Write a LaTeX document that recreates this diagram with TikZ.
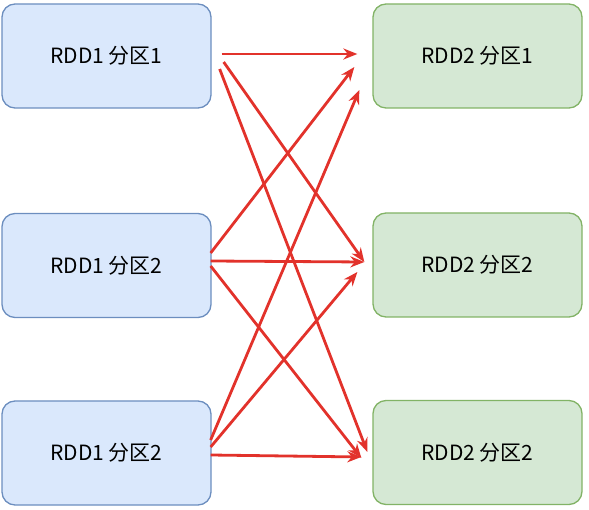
\documentclass[tikz,border=0pt]{standalone}
\usepackage{fontspec}
\newfontfamily\cjk{Noto Sans CJK SC}
\usetikzlibrary{arrows.meta,calc}
\definecolor{bluefill}{HTML}{DAE8FC}
\definecolor{blueline}{HTML}{6C8EBF}
\definecolor{greenfill}{HTML}{D5E8D4}
\definecolor{greenline}{HTML}{82B366}
\definecolor{arrowred}{HTML}{E2322B}
\begin{document}
\begin{tikzpicture}[x=1pt,y=-1pt]
\tikzstyle{every node}+=[inner sep=0pt,font=\cjk\fontsize{21}{24}\selectfont]
\tikzstyle{part}=[draw,rounded corners=13pt,line width=1.3pt,minimum width=209pt,minimum height=104pt]
\tikzstyle{src}=[part,fill=bluefill,draw=blueline]
\tikzstyle{dst}=[part,fill=greenfill,draw=greenline]
\tikzstyle{dep}=[draw=arrowred,line width=2.8pt,-{Stealth[length=14pt,width=11pt]}]
\useasboundingbox (0,0) rectangle (589,510);
\node [src] (l1) at (106.5,56) {RDD1 分区1};
\node [src] (l2) at (106.5,265.5) {RDD1 分区2};
\node [src] (l3) at (106.5,453) {RDD1 分区2};
\node [dst] (r1) at (477.5,56) {RDD2 分区1};
\node [dst] (r2) at (477.5,265) {RDD2 分区2};
\node [dst] (r3) at (477.5,452.5) {RDD2 分区2};
\draw [dep] ($(l1.east)+(10,-2)$) -- ($(r1.west)+(-15,-2)$);
\draw [dep] ($(l1.east)+(12,6)$) -- ($(r2.west)+(-8,-3)$);
\draw [dep] ($(l1.east)+(8,13)$) -- ($(r3.west)+(-5,-0.5)$);
\draw [dep] ($(l2.east)+(-1,-12.5)$) -- ($(r1.west)+(-18,11)$);
\draw [dep] ($(l2.east)+(-1,-4.5)$) -- ($(r2.west)+(-8,-3)$);
\draw [dep] ($(l2.east)+(-1,0.5)$) -- ($(r3.west)+(-11,5.5)$);
\draw [dep] ($(l3.east)+(-1,-13)$) -- ($(r1.west)+(-13,34)$);
\draw [dep] ($(l3.east)+(-1,-6)$) -- ($(r2.west)+(-15,7)$);
\draw [dep] ($(l3.east)+(-1,2)$) -- ($(r3.west)+(-11,4.5)$);
\end{tikzpicture}
\end{document}
